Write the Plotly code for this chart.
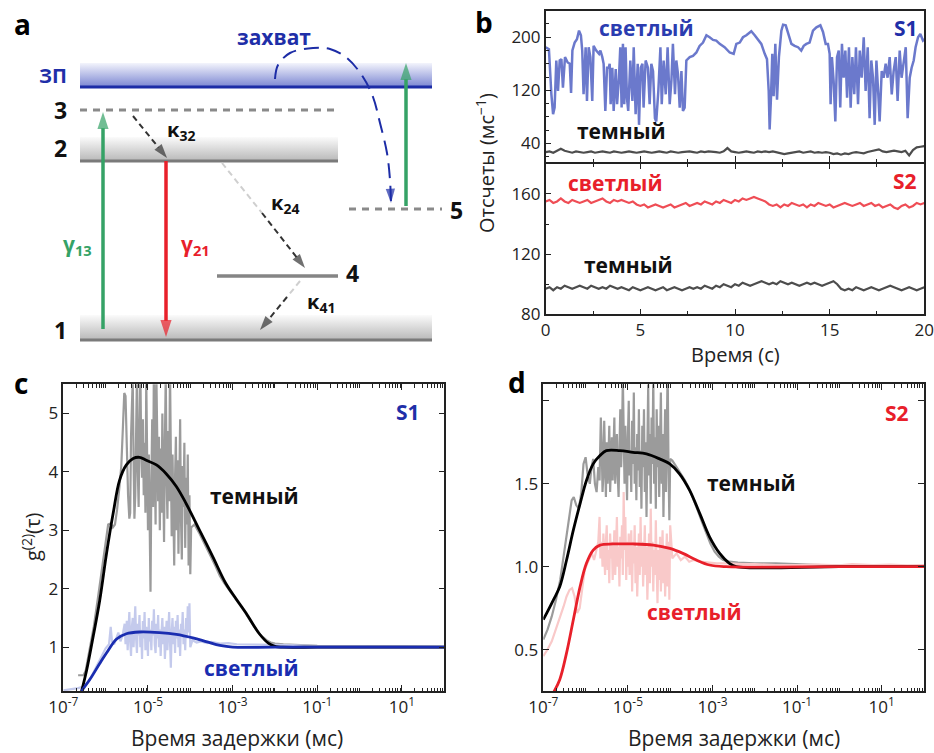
import numpy as np
import plotly.graph_objects as go

W, H = 934, 753
FONT = "Open Sans"

# ---------------- Panel b : time traces ----------------
t_s1_bright = [0.0,0.17,0.30,0.39,0.47,0.56,0.65,0.74,0.83,0.91,1.02,1.16,1.27,1.34,1.41,1.53,1.65,1.76,1.86,1.93,
               2.00,2.11,2.18,2.27,2.36,2.46,2.53,2.67,2.82,2.89,2.99,3.06,3.15,3.24,3.33,3.38,3.43,3.52,3.59,3.70,
               3.77,3.87,3.94,4.01,4.08,4.15,4.22,4.29,4.36,4.47,4.58,4.65,4.75,4.86,4.93,5.02,5.11,5.17,5.28,5.40,
               5.49,5.58,5.67,5.77,5.84,5.95,6.06,6.13,6.23,6.34,6.44,6.55,6.64,6.72,6.83,6.90,6.99,7.08,7.17,7.25,
               7.34,7.43,7.61,7.78,7.96,8.13,8.31,8.49,8.66,8.84,9.01,9.19,9.45,9.72,9.93,
               10.07,10.25,10.42,10.60,10.86,11.04,11.21,11.39,11.57,11.69,11.78,11.83,11.90,11.97,12.04,12.13,12.22,
               12.32,12.45,12.54,12.68,12.80,12.98,13.15,13.33,13.50,13.63,13.77,13.94,14.12,14.30,14.51,14.65,14.79,
               14.91,15.00,15.05,15.12,15.21,15.30,15.39,15.48,15.56,15.65,15.74,15.83,15.92,16.02,16.11,16.20,16.30,
               16.39,16.50,16.59,16.69,16.80,16.90,17.01,17.11,17.20,17.29,17.38,17.47,17.57,17.64,17.75,17.85,17.96,
               18.06,18.17,18.28,18.38,18.49,18.59,18.70,18.80,18.91,19.02,19.12,19.23,19.33,19.44,19.54,19.67,19.79,
               19.93,20.0]
v_s1_bright = [185,182,114,84,94,165,119,165,167,124,170,162,160,116,180,192,197,210,203,180,
               114,185,104,185,170,104,187,180,175,180,170,160,89,154,154,160,99,154,89,152,
               99,139,185,94,190,99,185,109,89,165,104,185,84,160,68,154,160,94,165,154,
               99,160,149,78,73,119,185,99,165,114,185,99,134,190,114,165,144,94,149,89,
               94,165,170,172,177,187,192,203,200,196,195,190,185,177,175,
               190,192,200,203,209,203,197,190,175,167,119,61,109,175,111,190,106,
               170,210,219,218,208,190,187,185,180,187,190,192,210,215,218,208,190,
               190,175,99,170,134,73,170,180,94,190,139,180,109,185,94,170,114,
               185,99,180,139,200,119,185,78,165,139,68,165,114,73,149,139,160,
               139,170,114,149,170,104,180,139,165,185,78,139,154,165,185,200,205,
               195,197]

t_uniform = np.round(np.arange(0, 20.001, 0.2), 1)
v_s1_dark = [27,28,26,29,32,29,27,26,28,27, 26,27,28,26,27,28,27,26,28,27,
             26,27,28,27,26,27,28,27,26,27, 28,27,26,28,27,26,27,28,28,27,
             26,28,27,28,28,27,26,28,33,28, 27,26,27,28,27,26,28,27,28,27,
             28,27,26,24,25,26,27,28,26,27, 28,26,27,26,27,26,24,25,23,25,
             24,26,27,26,25,27,28,29,31,28, 27,28,29,28,27,29,22,30,34,35, 36]
v_s2_bright = [155,156,154,155,157,155,154,156,155,154, 155,156,154,155,156,157,155,154,156,155,
               156,155,154,155,153,152,153,151,152,153, 152,151,152,153,151,152,153,154,152,153,
               154,153,155,154,153,155,154,156,155,154, 156,155,157,156,157,158,157,156,155,153,
               152,153,151,153,152,154,153,152,153,151, 153,152,154,153,152,153,151,152,153,154,
               153,152,153,154,152,153,154,152,153,151, 152,153,151,150,152,153,151,152,154,153, 154]
v_s2_dark = [97,98,96,98,97,99,98,97,98,99, 98,97,99,98,97,98,97,99,98,97,
             98,97,96,98,97,96,97,98,97,96, 97,98,96,97,98,97,96,97,98,97,
             98,97,99,98,97,99,98,100,99,98, 100,99,101,100,99,100,101,102,101,100,
             101,100,102,101,100,101,100,99,100,101, 100,101,100,99,100,101,102,100,97,96,
             97,96,98,97,96,97,98,97,96,97, 98,99,98,97,96,97,98,97,96,97, 98]

# ---------------- Panel c : g2 for S1 (log10 of delay in ms) ----------------
c_dark_log_a = [-6.65,-6.52,-6.47,-6.38,-6.28,-6.18,-6.08,-5.99,-5.94,-5.88,-5.83,-5.78,-5.73,-5.68,-5.63,-5.59,-5.56,-5.53,-5.50,-5.47,-5.44]
c_dark_g_a = [0.52,0.52,0.6,0.95,1.35,1.85,2.4,2.9,3.1,3.12,3.05,3.1,3.35,3.7,4.1,4.8,5.35,5.3,4.3,3.6,3.2]
c_dark_g_noisy = [3.3,4.6,5.4,5.6,4.2,3.2,3.6,5.1,5.7,4.0,3.4,4.8,5.8,4.4,3.9,4.9,3.6,4.5,3.3,5.6,
                  4.1,3.0,4.3,2.6,1.95,3.8,4.9,3.4,5.9,4.2,3.1,5.6,4.0,3.5,4.6,3.0,4.4,3.3,5.0,3.7,
                  2.8,4.5,5.7,3.9,3.2,4.7,3.5,5.8,4.0,2.9,4.3,3.6,2.4,3.9,4.6,3.0,4.2,2.6,3.8,4.9,
                  3.2,2.5,4.1,3.4,4.5,2.7,3.9,3.1,4.3,2.4,3.6,2.25,3.05]
c_dark_log_noisy = np.round(np.linspace(-5.42, -3.98, len(c_dark_g_noisy)), 3)
c_dark_log_b = [-3.9,-3.8,-3.7,-3.6,-3.5,-3.4,-3.3,-3.2,-3.1,-3.0,-2.9,-2.8,-2.7,-2.6,-2.5,-2.4,-2.3,-2.2,-2.1,-2.0,-1.8,-1.5,-1.2,-1.0,-0.5,0.0,0.5,1.0,1.5,2.0]
c_dark_g_b = [3.1,2.97,2.83,2.68,2.53,2.38,2.22,2.1,2.0,1.9,1.8,1.7,1.59,1.47,1.36,1.26,1.18,1.12,1.08,1.06,1.05,1.04,1.03,1.025,1.02,1.015,1.01,1.005,1.0,1.0]

c_bright_log_a = [-7.0,-6.8,-6.65,-6.5,-6.4,-6.3,-6.2,-6.1,-6.0,-5.92,-5.88,-5.85,-5.8,-5.75,-5.7,-5.65,-5.6,-5.55,-5.53]
c_bright_g_a = [0.26,0.28,0.3,0.33,0.42,0.55,0.7,0.85,0.98,1.05,1.35,1.1,1.05,1.15,1.25,1.1,1.2,1.4,1.05]
c_bright_g_noisy = [1.45,0.95,1.3,1.6,1.1,0.85,1.35,1.5,1.0,1.25,1.7,1.15,0.9,1.4,1.2,1.55,1.0,1.3,0.8,1.45,
                    1.15,1.6,0.95,1.35,1.2,0.85,1.5,1.1,1.3,0.95,1.45,1.2,1.65,1.05,0.9,1.4,1.15,1.55,1.0,1.3,
                    0.85,1.25,1.5,1.05,1.35,0.8,1.2,1.45,0.95,1.3,1.6,1.1,0.65,1.25,1.5,1.05,1.35,0.9,1.45,1.15,
                    1.55,1.0,1.3,0.85,1.4,1.2,1.6,1.05,1.3,0.95,1.5,1.15,1.7,1.25,1.75,1.0]
c_bright_log_noisy = np.round(np.linspace(-5.50, -4.00, len(c_bright_g_noisy)), 3)
c_bright_log_b = [-3.95,-3.85,-3.75,-3.6,-3.5,-3.3,-3.1,-2.9,-2.6,-2.3,-2.0,-1.5,-1.0,0.0,1.0,2.0]
c_bright_g_b = [1.12,1.08,1.1,1.07,1.09,1.06,1.07,1.05,1.05,1.04,1.04,1.03,1.02,1.02,1.01,1.01]

c_dark_fit_log = [-6.57,-6.45,-6.29,-6.14,-5.98,-5.82,-5.67,-5.51,-5.35,-5.20,-5.04,-4.80,-4.57,-4.33,-4.10,-3.78,-3.47,-3.16,-2.92,-2.68,-2.37,-2.14,-1.98,-1.82,-1.0,0.0,2.0]
c_dark_fit_g = [0.24,0.6,1.2,1.8,2.6,3.3,3.86,4.12,4.23,4.25,4.20,4.12,3.97,3.75,3.46,3.0,2.55,2.09,1.83,1.58,1.23,1.06,1.01,1.0,1.0,1.0,1.0]
c_bright_fit_log = [-6.57,-6.37,-6.14,-5.98,-5.74,-5.51,-5.20,-4.73,-4.33,-3.94,-3.6,-3.3,-3.0,-2.0,0.0,2.0]
c_bright_fit_g = [0.25,0.45,0.72,0.9,1.14,1.23,1.26,1.25,1.22,1.16,1.09,1.03,1.0,1.0,1.0,1.0]

# ---------------- Panel d : g2 for S2 ----------------
d_dark_log_a = [-7.0,-6.9,-6.8,-6.7,-6.6,-6.5,-6.4,-6.33,-6.28,-6.22,-6.16,-6.1,-6.05,-6.0,-5.95,-5.9,-5.86,-5.82,-5.78,-5.74,-5.7,-5.67,-5.64,-5.62,-5.60]
d_dark_g_a = [0.56,0.62,0.7,0.8,0.92,1.1,1.3,1.4,1.42,1.37,1.35,1.45,1.62,1.66,1.55,1.5,1.6,1.65,1.5,1.45,1.6,1.52,1.9,1.75,1.45]
d_dark_g_noisy = [1.55,1.88,1.6,1.42,1.75,1.5,1.65,1.85,1.45,1.58, 1.78,1.52,1.68,1.9,1.5,1.62,1.8,1.55,1.42,1.7,
                  1.95,1.6,1.75,2.15,1.65,1.5,1.85,1.6,1.4,1.78, 2.0,1.55,1.7,1.45,1.88,1.62,2.05,1.5,1.72,1.4,
                  1.8,1.58,1.95,1.48,1.7,1.35,1.85,1.6,1.95,1.45, 1.75,1.3,1.68,2.1,1.55,1.8,1.38,1.9,1.62,2.15,
                  1.5,1.78,1.35,1.95,1.6,1.85,1.42,1.7,2.05,1.5, 1.8,1.3,1.65,1.95,1.45,1.75,2.2,1.6,1.28,1.65]
d_dark_log_noisy = np.round(np.linspace(-5.58, -4.00, len(d_dark_g_noisy)), 3)
d_dark_log_b = [-3.95,-3.85,-3.75,-3.65,-3.55,-3.45,-3.35,-3.25,-3.15,-3.05,-2.95,-2.85,-2.75,-2.6,-2.4,-2.0,-1.5,-1.0,-0.5,0.0,0.5,1.0,2.0]
d_dark_g_b = [1.64,1.6,1.56,1.52,1.47,1.41,1.34,1.27,1.2,1.14,1.09,1.06,1.04,1.03,1.025,1.02,1.02,1.015,1.01,1.005,1.0,1.0,1.0]

d_bright_log_a = [-7.0,-6.9,-6.8,-6.7,-6.6,-6.52,-6.45,-6.38,-6.32,-6.26,-6.2,-6.14,-6.08,-6.02,-5.96,-5.9,-5.85,-5.8,-5.75,-5.7,-5.67,-5.65,-5.62]
d_bright_g_a = [0.46,0.5,0.55,0.62,0.7,0.76,0.82,0.86,0.87,0.82,0.72,0.75,0.88,0.98,1.02,1.05,1.08,1.04,1.1,1.15,1.3,1.05,1.15]
d_bright_g_noisy = [1.0,1.2,1.05,0.95,1.15,1.25,0.98,1.1,0.9,1.2,1.05, 1.15,0.92,1.1,1.22,0.95,1.08,1.3,1.0,1.12,0.88,
                    1.18,1.05,1.25,0.95,1.45,1.1,1.3,0.92,1.15,1.0, 1.2,0.95,1.1,1.22,0.85,1.15,1.02,1.25,0.9,1.12,
                    0.82,1.05,1.2,0.95,1.3,1.0,1.15,0.88,1.08,1.25, 0.95,1.12,0.8,1.05,1.2,0.9,1.35,1.0,1.15,0.85,
                    1.1,0.95,1.28,1.0,0.78,1.1,0.92,1.18,0.85,1.05, 1.22,0.9,1.12,0.82,1.0,1.2,0.88,1.15,0.8,1.25]
d_bright_log_noisy = np.round(np.linspace(-5.60, -4.00, len(d_bright_g_noisy)), 3)
d_bright_log_b = [-3.95,-3.85,-3.75,-3.65,-3.55,-3.45,-3.3,-3.1,-2.9,-2.6,-2.3,-2.0,-1.5,-1.0,-0.5,0.0,0.3,0.8,1.2,1.6,2.0]
d_bright_g_b = [1.05,1.08,1.04,1.06,1.03,1.04,1.03,1.025,1.02,1.02,1.015,1.015,1.01,1.01,1.012,1.008,1.015,1.01,1.012,1.008,1.01]

d_dark_fit_log = [-7.0,-6.76,-6.61,-6.45,-6.29,-6.13,-5.98,-5.82,-5.66,-5.51,-5.19,-4.88,-4.56,-4.25,-4.01,-3.78,-3.54,-3.30,-3.07,-2.83,-2.60,-2.44,0.0,2.0]
d_dark_fit_g = [0.68,0.80,0.88,1.04,1.22,1.38,1.52,1.62,1.67,1.70,1.70,1.69,1.68,1.65,1.62,1.56,1.46,1.32,1.18,1.08,1.02,1.0,1.0,1.0]
d_bright_fit_log = [-6.76,-6.61,-6.45,-6.29,-6.13,-5.98,-5.82,-5.66,-5.35,-4.88,-4.40,-4.01,-3.70,-3.38,-3.07,-2.68,0.0,2.0]
d_bright_fit_g = [0.24,0.32,0.48,0.68,0.88,1.02,1.10,1.13,1.137,1.137,1.13,1.11,1.08,1.04,1.01,1.0,1.0,1.0]

# ---------------- Panel a : level diagram (panel pixel units) ----------------
band_x0 = [80, 80, 80]
band_x1 = [432, 338, 432]
band_top = [63, 137, 315]
band_bot = [87, 161, 340]
band_light = ["#f3f4fc", "#fbfbfb", "#fbfbfb"]
band_dark = ["#7b86d2", "#b8b8b8", "#b8b8b8"]
band_line = ["#1c2ca6", "#7a7a7a", "#7a7a7a"]

C_BLUE_TXT = "#1f2fa8"
C_RED = "#e8202a"
C_GREEN = "#35a266"

fig = go.Figure()

def P(x, y):
    return x / W, 1 - y / H

# ---- diagram bands
for i in range(3):
    fig.add_trace(go.Scatter(
        x=[band_x0[i], band_x1[i], band_x1[i], band_x0[i], band_x0[i]],
        y=[band_top[i], band_top[i], band_bot[i], band_bot[i], band_top[i]],
        mode="lines", line=dict(width=0), fill="toself",
        fillgradient=dict(type="vertical", colorscale=[[0, band_light[i]], [1, band_dark[i]]],
                          start=band_top[i], stop=band_bot[i]),
        xaxis="x5", yaxis="y5", hoverinfo="skip"))
    fig.add_trace(go.Scatter(x=[band_x0[i], band_x1[i]], y=[band_bot[i], band_bot[i]], mode="lines",
                             line=dict(color=band_line[i], width=3), xaxis="x5", yaxis="y5", hoverinfo="skip"))

# level 3 (dashed), level 4 (solid), level 5 (dashed)
fig.add_trace(go.Scatter(x=[80, 338], y=[110, 110], mode="lines", line=dict(color="#8a8a8a", width=3, dash="7px,6px"),
                         xaxis="x5", yaxis="y5", hoverinfo="skip"))
fig.add_trace(go.Scatter(x=[217, 338], y=[276, 276], mode="lines", line=dict(color="#858585", width=3.5),
                         xaxis="x5", yaxis="y5", hoverinfo="skip"))
fig.add_trace(go.Scatter(x=[349, 442], y=[209, 209], mode="lines", line=dict(color="#8a8a8a", width=3, dash="7px,6px"),
                         xaxis="x5", yaxis="y5", hoverinfo="skip"))

def arrow(xs, ys, color, width, dash="solid", size=13, shape="linear"):
    sizes = [0] * (len(xs) - 1) + [size]
    fig.add_trace(go.Scatter(x=xs, y=ys, mode="lines+markers",
                             line=dict(color=color, width=width, dash=dash, shape=shape),
                             marker=dict(symbol="arrow", size=sizes, color=color, angleref="previous",
                                         line=dict(width=0)),
                             xaxis="x5", yaxis="y5", hoverinfo="skip"))

arrow([103, 103], [329, 112], C_GREEN, 3.5, size=18)
arrow([166, 166], [161, 337], C_RED, 3.5, size=18)
arrow([406, 406], [206, 63], C_GREEN, 3.5, size=18)
arrow([133, 167], [116, 158], "#333333", 2, dash="6px,4px", size=15)
fig.add_trace(go.Scatter(x=[222, 262], y=[163, 213], mode="lines", line=dict(color="#cfcfcf", width=2, dash="6px,4px"),
                         xaxis="x5", yaxis="y5", hoverinfo="skip"))
arrow([262, 305], [213, 268], "#333333", 2, dash="6px,4px", size=15)
fig.add_trace(go.Scatter(x=[300, 287], y=[281, 297], mode="lines", line=dict(color="#cfcfcf", width=2, dash="6px,4px"),
                         xaxis="x5", yaxis="y5", hoverinfo="skip"))
arrow([287, 260], [297, 330], "#333333", 2, dash="6px,4px", size=15)
arrow([275, 278, 290, 313, 330, 347, 363, 373, 380, 387, 390, 391],
      [79, 65, 53, 48, 49, 58, 77, 97, 123, 153, 180, 203], "#1c2ca6", 2, dash="15px,8px", size=15, shape="spline")

# ---- panel b traces
fig.add_trace(go.Scatter(x=t_s1_bright, y=v_s1_bright, mode="lines", line=dict(color="#6b79cc", width=2.5),
                         xaxis="x", yaxis="y", hoverinfo="skip"))
fig.add_trace(go.Scatter(x=t_uniform, y=v_s1_dark, mode="lines", line=dict(color="#4d4d4d", width=2.2),
                         xaxis="x", yaxis="y", hoverinfo="skip"))
fig.add_trace(go.Scatter(x=t_uniform, y=v_s2_bright, mode="lines", line=dict(color="#ef4d55", width=2.2),
                         xaxis="x2", yaxis="y2", hoverinfo="skip"))
fig.add_trace(go.Scatter(x=t_uniform, y=v_s2_dark, mode="lines", line=dict(color="#4d4d4d", width=2.2),
                         xaxis="x2", yaxis="y2", hoverinfo="skip"))

# ---- panel c traces
def pow10(a):
    return 10 ** np.asarray(a, dtype=float)

c_dark_x = pow10(list(c_dark_log_a) + list(c_dark_log_noisy) + list(c_dark_log_b))
c_dark_y = list(c_dark_g_a) + list(c_dark_g_noisy) + list(c_dark_g_b)
c_bri_x = pow10(list(c_bright_log_a) + list(c_bright_log_noisy) + list(c_bright_log_b))
c_bri_y = list(c_bright_g_a) + list(c_bright_g_noisy) + list(c_bright_g_b)
fig.add_trace(go.Scatter(x=c_dark_x, y=c_dark_y, mode="lines", line=dict(color="#9b9b9b", width=2.2),
                         xaxis="x3", yaxis="y3", hoverinfo="skip"))
fig.add_trace(go.Scatter(x=c_bri_x, y=c_bri_y, mode="lines", line=dict(color="#c4caec", width=2.2),
                         xaxis="x3", yaxis="y3", hoverinfo="skip"))
fig.add_trace(go.Scatter(x=pow10(c_dark_fit_log), y=c_dark_fit_g, mode="lines",
                         line=dict(color="#000000", width=2.8, shape="spline"), xaxis="x3", yaxis="y3", hoverinfo="skip"))
fig.add_trace(go.Scatter(x=pow10(c_bright_fit_log), y=c_bright_fit_g, mode="lines",
                         line=dict(color="#1a2db0", width=2.8, shape="spline"), xaxis="x3", yaxis="y3", hoverinfo="skip"))

# ---- panel d traces
d_dark_x = pow10(list(d_dark_log_a) + list(d_dark_log_noisy) + list(d_dark_log_b))
d_dark_y = list(d_dark_g_a) + list(d_dark_g_noisy) + list(d_dark_g_b)
d_bri_x = pow10(list(d_bright_log_a) + list(d_bright_log_noisy) + list(d_bright_log_b))
d_bri_y = list(d_bright_g_a) + list(d_bright_g_noisy) + list(d_bright_g_b)
fig.add_trace(go.Scatter(x=d_dark_x, y=d_dark_y, mode="lines", line=dict(color="#9b9b9b", width=2.2),
                         xaxis="x4", yaxis="y4", hoverinfo="skip"))
fig.add_trace(go.Scatter(x=d_bri_x, y=d_bri_y, mode="lines", line=dict(color="#f9c9c9", width=2.2),
                         xaxis="x4", yaxis="y4", hoverinfo="skip"))
fig.add_trace(go.Scatter(x=pow10(d_dark_fit_log), y=d_dark_fit_g, mode="lines",
                         line=dict(color="#000000", width=2.8, shape="spline"), xaxis="x4", yaxis="y4", hoverinfo="skip"))
fig.add_trace(go.Scatter(x=pow10(d_bright_fit_log), y=d_bright_fit_g, mode="lines",
                         line=dict(color=C_RED, width=2.8, shape="spline"), xaxis="x4", yaxis="y4", hoverinfo="skip"))

# ---------------- axes ----------------
tickfont = dict(family=FONT, size=17, color="#222222")
base = dict(showgrid=False, zeroline=False, showline=True, linecolor="#222222", linewidth=1.5, automargin=False,
            ticks="inside", tickcolor="#222222", tickwidth=1.3, ticklen=6, tickfont=tickfont,
            ticklabeloverflow="allow")
mtick = dict(ticks="inside", ticklen=3.5, tickwidth=1.3, tickcolor="#222222", showgrid=False)

xb = [545.7 / W, 924.3 / W]
fig.update_layout(
    xaxis=dict(base, domain=xb, range=[0, 20], anchor="y", tickvals=[0, 5, 10, 15, 20], showticklabels=False,
               mirror=True, minor=dict(mtick, tickvals=[2.5, 7.5, 12.5, 17.5])),
    yaxis=dict(base, domain=[1 - 162 / H, 1 - 10.7 / H], range=[12, 240], anchor="x", tickvals=[40, 120, 200],
               mirror=True, minor=dict(mtick, tick0=0, dtick=20)),
    xaxis2=dict(base, domain=xb, range=[0, 20], anchor="y2", tickvals=[0, 5, 10, 15, 20], mirror="ticks",
                minor=dict(mtick, tickvals=[2.5, 7.5, 12.5, 17.5])),
    yaxis2=dict(base, domain=[1 - 314.3 / H, 1 - 163.5 / H], range=[80, 180.2], anchor="x2", tickvals=[80, 120, 160],
                mirror=True, minor=dict(mtick, tick0=0, dtick=20)),
)

major_dec = [1e-7, 1e-5, 1e-3, 1e-1, 1e1]
major_text = ["10<sup>-7</sup>", "10<sup>-5</sup>", "10<sup>-3</sup>", "10<sup>-1</sup>", "10<sup>1</sup>"]
all_dec = [1e-7, 1e-6, 1e-5, 1e-4, 1e-3, 1e-2, 1e-1, 1e0, 1e1]
minor_vals = [1e-6, 1e-4, 1e-2, 1e0, 1e2] + [k * d for d in all_dec for k in range(2, 10)]
logx = dict(base, type="log", range=[-7, 2], tickvals=major_dec, ticktext=major_text, mirror="ticks",
            minor=dict(mtick, tickvals=minor_vals, tickwidth=1.1))
gy = [1 - 691 / H, 1 - 384.3 / H]
fig.update_layout(
    xaxis3=dict(logx, domain=[63.3 / W, 444.3 / W], anchor="y3"),
    yaxis3=dict(base, domain=gy, range=[0.25, 5.5], tickvals=[1, 2, 3, 4, 5], anchor="x3", mirror="ticks"),
    xaxis4=dict(logx, domain=[543.3 / W, 924 / W], anchor="y4"),
    yaxis4=dict(base, domain=gy, range=[0.25, 2.1], tickvals=[0.5, 1.0, 1.5],
                ticktext=["0.5", "1.0", "1.5"], anchor="x4", mirror="ticks",
                minor=dict(mtick, tickvals=[2.0], ticklen=6)),
    xaxis5=dict(domain=[0, 470 / W], range=[0, 470], visible=False, anchor="y5", fixedrange=True, automargin=False),
    yaxis5=dict(domain=[1 - 360 / H, 1], range=[360, 0], visible=False, anchor="x5", fixedrange=True, automargin=False),
)

# ---------------- text ----------------
ann = []

def txt(x, y, s, size, color="#111111", bold=False, ref="paper", angle=0, xanchor="center"):
    f = dict(family=FONT, size=size, color=color, weight="bold" if bold else "normal")
    if ref == "paper":
        xx, yy = P(x, y)
        ann.append(dict(x=xx, y=yy, xref="paper", yref="paper", text=s, showarrow=False, textangle=angle,
                        xanchor=xanchor, yanchor="middle", font=f))
    else:
        ann.append(dict(x=x, y=y, xref="x5", yref="y5", text=s, showarrow=False, textangle=angle,
                        xanchor=xanchor, yanchor="middle", font=f))

# panel letters
txt(22, 24, "a", 28, "#000", True)
txt(484, 22, "b", 28, "#000", True)
txt(21, 383, "c", 28, "#000", True)
txt(517, 382, "d", 28, "#000", True)

# diagram labels
txt(53, 75, "ЗП", 20, C_BLUE_TXT, True, ref="x5")
txt(60, 110, "3", 23, "#111", True, ref="x5")
txt(60, 148, "2", 23, "#111", True, ref="x5")
txt(60, 330, "1", 23, "#111", True, ref="x5")
txt(352, 273, "4", 23, "#111", True, ref="x5")
txt(456, 210, "5", 23, "#111", True, ref="x5")
txt(77, 245, "γ<sub>13</sub>", 21, C_GREEN, True, ref="x5")
txt(195, 245, "γ<sub>21</sub>", 21, C_RED, True, ref="x5")
txt(181, 130, "κ<sub>32</sub>", 20, "#111", True, ref="x5")
txt(285, 203, "κ<sub>24</sub>", 20, "#111", True, ref="x5")
txt(321, 302, "κ<sub>41</sub>", 20, "#111", True, ref="x5")
txt(274, 37, "захват", 21, C_BLUE_TXT, True, ref="x5")

# panel b labels
txt(646, 28, "светлый", 21, "#2b3cb0", True)
txt(906, 28, "S1", 21, C_BLUE_TXT, True)
txt(621, 131, "темный", 21, "#111", True)
txt(615, 183, "светлый", 21, C_RED, True)
txt(905, 181, "S2", 21, C_RED, True)
txt(628, 265, "темный", 21, "#111", True)
txt(485, 163, "Отсчеты (мс<sup>−1</sup>)", 20, "#222", False, angle=-90)
txt(735, 354, "Время (с)", 20, "#222", False)

# panel c/d labels
txt(408, 412, "S1", 21, C_BLUE_TXT, True)
txt(254, 496, "темный", 21, "#111", True)
txt(252, 668, "светлый", 21, "#1a2db0", True)
txt(897, 413, "S2", 21, C_RED, True)
txt(751, 483, "темный", 21, "#111", True)
txt(694, 612, "светлый", 21, C_RED, True)
txt(31, 537, "g<sup>(2)</sup>(τ)", 20, "#222", False, angle=-90)
txt(237, 738, "Время задержки (мс)", 21, "#222", False)
txt(734, 738, "Время задержки (мс)", 21, "#222", False)

fig.update_layout(template="none", width=W, height=H, margin=dict(l=0, r=0, t=0, b=0, autoexpand=False),
                  showlegend=False, paper_bgcolor="white", plot_bgcolor="white", annotations=ann,
                  font=dict(family=FONT))

fig.write_html("out.html")
